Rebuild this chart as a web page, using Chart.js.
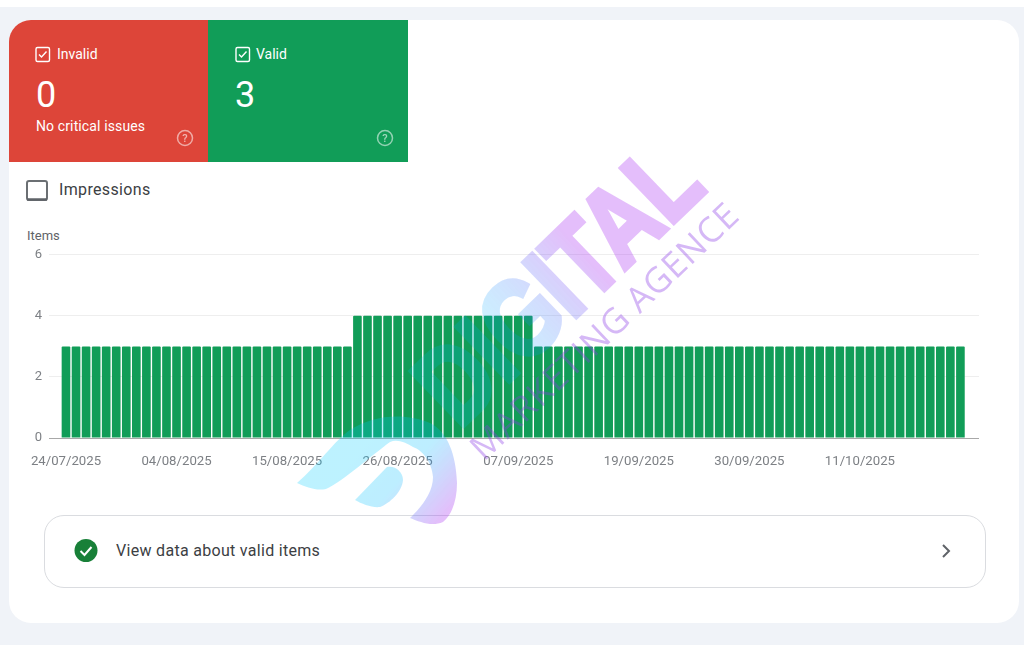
<!DOCTYPE html>
<html>
<head>
<meta charset="utf-8">
<script src="https://cdn.jsdelivr.net/npm/chart.js@4"></script>
<style>
  html, body { margin: 0; padding: 0; background: #fff; }
  body { width: 1024px; height: 645px; overflow: hidden; position: relative; font-family: Roboto, sans-serif; }
  .abs { position: absolute; white-space: nowrap; }
  #bg { left: 0; top: 7px; width: 1024px; height: 638px; background: #f0f3f8; }
  #card { left: 9px; top: 20px; width: 1010px; height: 603px; background: #fff; border-radius: 22px; }
  #red { left: 9px; top: 20px; width: 199px; height: 142px; background: #dd4539; border-top-left-radius: 22px; }
  #green { left: 208px; top: 20px; width: 200px; height: 142px; background: #119d58; }
  .lbl { color: #fff; font-size: 14px; line-height: 16px; }
  .num { color: #fff; font-size: 36px; line-height: 40px; }
  #impr { left: 59px; top: 180px; font-size: 16px; line-height: 19px; color: #3c4043; letter-spacing: 0.35px; }
  #items { left: 27px; top: 229px; font-size: 13px; line-height: 14px; color: #5f6368; }
  #chartBox { left: 0; top: 240px; width: 1024px; height: 240px; }
  #btn { left: 44px; top: 515px; width: 940px; height: 71px; border: 1px solid #dadce0; border-radius: 20px; background: #fff; }
  #btnText { left: 116px; top: 541px; font-size: 16px; line-height: 19px; color: #3c4043; letter-spacing: 0.3px; }
  svg.abs { left: 0; top: 0; pointer-events: none; }
</style>
</head>
<body>
<div class="abs" id="bg"></div>
<div class="abs" id="card"></div>
<div class="abs" id="red"></div>
<div class="abs" id="green"></div>

<div class="abs lbl" style="left:57px;top:46px">Invalid</div>
<div class="abs num" style="left:36px;top:75px">0</div>
<div class="abs lbl" style="left:36px;top:118px;letter-spacing:0.12px">No critical issues</div>
<div class="abs lbl" style="left:256px;top:46px">Valid</div>
<div class="abs num" style="left:235px;top:75px">3</div>
<div class="abs" id="impr">Impressions</div>
<div class="abs" id="items">Items</div>

<div class="abs" id="chartBox"><canvas id="myChart"></canvas></div>

<div class="abs" id="btn"></div>
<div class="abs" id="btnText">View data about valid items</div>

<svg class="abs" width="1024" height="645" viewBox="0 0 1024 645">
  <defs>
    <linearGradient id="wm" gradientUnits="userSpaceOnUse" x1="430" y1="400" x2="640" y2="210">
      <stop offset="0" stop-color="rgb(0,205,255)" stop-opacity="0.6"/>
      <stop offset="0.35" stop-color="rgb(0,170,255)" stop-opacity="0.65"/>
      <stop offset="0.75" stop-color="rgb(165,40,240)"/>
      <stop offset="1" stop-color="rgb(165,40,240)"/>
    </linearGradient>
    <linearGradient id="arc" gradientUnits="userSpaceOnUse" x1="370" y1="440" x2="450" y2="510">
      <stop offset="0" stop-color="rgb(0,205,255)" stop-opacity="0.85"/>
      <stop offset="0.45" stop-color="rgb(0,190,255)" stop-opacity="0.85"/>
      <stop offset="1" stop-color="rgb(165,40,240)"/>
    </linearGradient>
    <mask id="wordMask" maskUnits="userSpaceOnUse" x="0" y="0" width="1024" height="645">
      <text transform="translate(459 430) rotate(-44)" font-family="Liberation Sans" font-weight="700" font-size="110" fill="#fff" stroke="#fff" stroke-width="5" textLength="346" lengthAdjust="spacingAndGlyphs">DIGITAL</text>
    </mask>
  </defs>

  <!-- checkboxes and help icons -->
  <g fill="none" stroke="#fff" stroke-width="1.4">
    <rect x="36" y="47.5" width="13.5" height="14" rx="1.5"/>
    <path d="M39 54.5l2.5 2.5 5-5.5"/>
    <rect x="236" y="47.5" width="13.5" height="14" rx="1.5"/>
    <path d="M239 54.5l2.5 2.5 5-5.5"/>
  </g>
  <g fill="none" stroke="#fff" stroke-opacity="0.55" stroke-width="1.5">
    <circle cx="185" cy="138" r="7.5"/>
    <circle cx="385" cy="138" r="7.5"/>
  </g>
  <g fill="#fff" fill-opacity="0.6" font-family="Roboto" font-size="11" font-weight="500" text-anchor="middle">
    <text x="185" y="142">?</text>
    <text x="385" y="142">?</text>
  </g>
  <rect x="27" y="181" width="20" height="19" rx="2" fill="#fff" stroke="#6b6f73" stroke-width="2"/>
  <path d="M27 199.5h20" stroke="#5f6368" stroke-width="2.5"/>

  <!-- button icons -->
  <circle cx="86" cy="550.5" r="11.5" fill="#188038"/>
  <path d="M80.5 551l4 4 7-8" fill="none" stroke="#fff" stroke-width="2"/>
  <path d="M943 545l6 6-6 6" fill="none" stroke="#5f6368" stroke-width="2"/>

  <!-- watermark -->
  <g opacity="0.3">
    <path fill="url(#arc)" d="M297 483 C318 465 335 440 350 430 C372 415 405 412 430 423 C448 432 456 455 457 483 C457 500 452 515 443 522 C432 527 420 522 410 518 C418 510 433 495 433 477 C432 462 422 450 413 447 C405 442 397 439 390 442 C372 455 345 480 326 489 C316 491 306 487 297 483 Z"/>
    <path fill="url(#arc)" d="M355 500 L387 467 C395 465 403 472 403 480 C402 492 390 503 380 507 C372 508 362 504 355 500 Z"/>
    <rect x="380" y="130" width="350" height="320" fill="url(#wm)" mask="url(#wordMask)"/>
  </g>
  <text transform="translate(484 462) rotate(-43.5)" font-family="Open Sans" font-size="35" fill="rgb(140,60,230)" opacity="0.36" textLength="354" lengthAdjust="spacing">MARKETING AGENCE</text>
</svg>

<script>
var categories = [
  '24/07/2025','25/07/2025','26/07/2025','27/07/2025','28/07/2025','29/07/2025','30/07/2025','31/07/2025',
  '01/08/2025','02/08/2025','03/08/2025','04/08/2025','05/08/2025','06/08/2025','07/08/2025','08/08/2025',
  '09/08/2025','10/08/2025','11/08/2025','12/08/2025','13/08/2025','14/08/2025','15/08/2025','16/08/2025',
  '17/08/2025','18/08/2025','19/08/2025','20/08/2025','21/08/2025','22/08/2025','23/08/2025','24/08/2025',
  '25/08/2025','26/08/2025','27/08/2025','28/08/2025','29/08/2025','30/08/2025','31/08/2025',
  '01/09/2025','02/09/2025','03/09/2025','04/09/2025','05/09/2025','06/09/2025','07/09/2025','08/09/2025',
  '09/09/2025','10/09/2025','11/09/2025','12/09/2025','13/09/2025','14/09/2025','15/09/2025','16/09/2025',
  '17/09/2025','18/09/2025','19/09/2025','20/09/2025','21/09/2025','22/09/2025','23/09/2025','24/09/2025',
  '25/09/2025','26/09/2025','27/09/2025','28/09/2025','29/09/2025','30/09/2025',
  '01/10/2025','02/10/2025','03/10/2025','04/10/2025','05/10/2025','06/10/2025','07/10/2025','08/10/2025',
  '09/10/2025','10/10/2025','11/10/2025','12/10/2025','13/10/2025','14/10/2025','15/10/2025','16/10/2025',
  '17/10/2025','18/10/2025','19/10/2025','20/10/2025','21/10/2025'
];
var validItems = [
  3,3,3,3,3,3,3,3,3,3,3,3,3,3,3,3,3,3,3,3,3,3,3,3,3,3,3,3,3,
  4,4,4,4,4,4,4,4,4,4,4,4,4,4,4,4,4,4,
  3,3,3,3,3,3,3,3,3,3,3,3,3,3,3,3,3,3,3,3,3,3,3,
  3,3,3,3,3,3,3,3,3,3,3,3,3,3,3,3,3,3,3,3
];
var xTickLabels = ['24/07/2025','04/08/2025','15/08/2025','26/08/2025','07/09/2025','19/09/2025','30/09/2025','11/10/2025'];
var yTickValues = [0, 2, 4, 6];

var points = validItems.map(function (v, i) { return { x: i, y: v }; });

new Chart(document.getElementById('myChart').getContext('2d'), {
  type: 'bar',
  data: {
    datasets: [{
      label: 'Valid',
      data: points,
      backgroundColor: '#119d58',
      barPercentage: 0.86,
      categoryPercentage: 1,
      borderRadius: 1
    }]
  },
  options: {
    responsive: true,
    maintainAspectRatio: false,
    animation: false,
    layout: { padding: { top: 14, right: 45, bottom: 0, left: 0 } },
    plugins: { legend: { display: false }, tooltip: { enabled: false } },
    scales: {
      x: {
        type: 'linear',
        offset: false,
        min: -1.69,
        max: 90.85,
        grid: { display: false },
        border: { display: false },
        afterBuildTicks: function (axis) {
          axis.ticks = xTickLabels.map(function (l) { return { value: categories.indexOf(l) }; });
        },
        afterFit: function (axis) { axis.height = 42; },
        ticks: {
          autoSkip: false,
          maxRotation: 0,
          padding: 8,
          color: '#7d8085',
          font: { family: 'Roboto', size: 13.2 },
          callback: function (value) { return categories[value]; }
        }
      },
      y: {
        min: 0,
        max: 6,
        afterBuildTicks: function (axis) {
          axis.ticks = yTickValues.map(function (v) { return { value: v }; });
        },
        afterFit: function (axis) { axis.width = 49; },
        border: { display: false },
        grid: {
          drawTicks: false,
          color: function (c) { return c.tick.value === 0 ? '#a8a8a8' : '#eeeeee'; }
        },
        ticks: {
          padding: 7,
          color: '#7d8085',
          font: { family: 'Roboto', size: 13 }
        }
      }
    }
  }
});
</script>
</body>
</html>
